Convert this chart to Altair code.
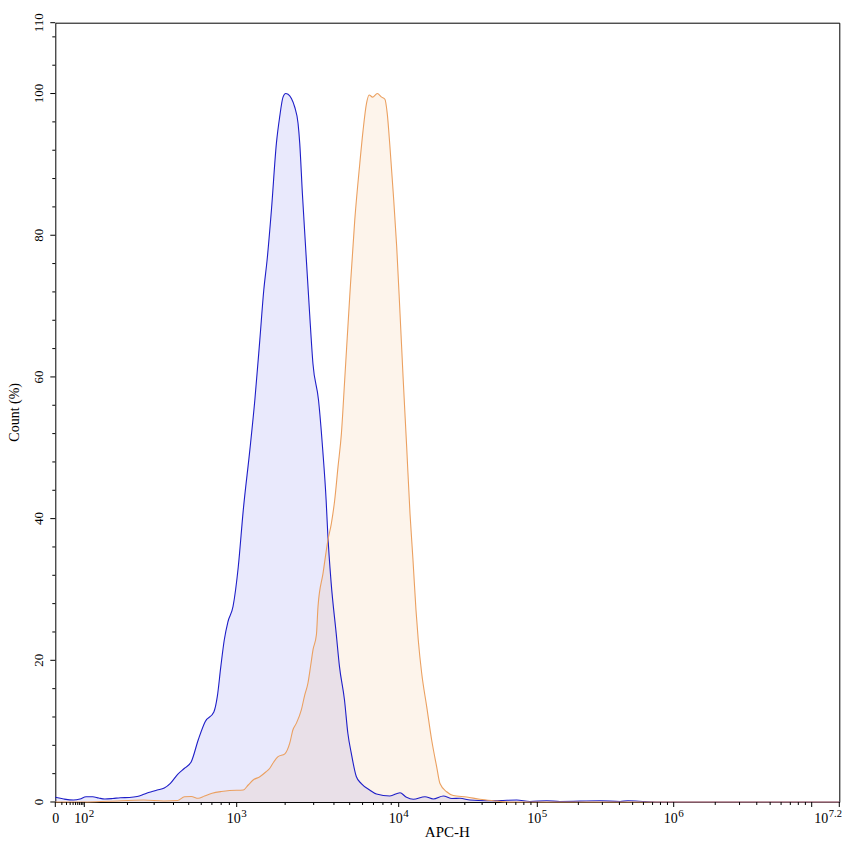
import altair as alt
import pandas as pd

# ---------------- data ----------------
SERIES = ["Control", "APC"]

blue_x = [0, 14, 41, 72, 103, 115, 127, 140, 159, 179, 206, 232, 250, 270, 291, 314, 349, 382,
          425, 470, 519, 574, 635, 720, 757, 796, 837, 881, 949, 1023, 1099, 1208, 1297, 1393,
          1475, 1546, 1645, 1766, 1850, 1940, 2015, 2084, 2187, 2291, 2403, 2461, 2556, 2666,
          2832, 2969, 3215, 3412, 3581, 3664, 3846, 4130, 4327, 4645, 4872, 5113, 5490, 5895,
          6633, 7305, 8830, 10220, 11290, 12750, 15480, 17780, 20990, 24250, 27700, 32680,
          43150, 53830, 71050, 88530, 117300, 146600, 288000, 404400, 462400, 616600, 794000,
          15848932]
blue_y = [0.66, 0.42, 0.28, 0.42, 0.75, 0.75, 0.56, 0.42, 0.49, 0.6, 0.64, 0.78, 0.99, 1.27,
          1.48, 1.69, 1.98, 2.64, 3.9, 4.76, 5.69, 8.75, 11.33, 12.7, 14.9, 19.1, 22.9, 25.4,
          27.6, 33.2, 41.2, 49.7, 56.7, 65.2, 72.3, 76.5, 83.6, 93.0, 96.7, 99.5, 100, 99.9,
          99.3, 98.1, 95.8, 93.0, 85.9, 78.9, 69.0, 61.9, 56.7, 49.7, 42.6, 37.9, 30.9, 23.8,
          19.1, 14.4, 9.7, 6.9, 3.6, 2.6, 1.7, 1.13, 0.85, 1.31, 0.71, 0.38, 0.75, 0.42, 0.85,
          0.49, 0.52, 0.28, 0.18, 0.2, 0.28, 0.07, 0.18, 0.07, 0.17, 0.07, 0.17, 0.07, 0, 0]

orange_x = [0, 100, 148, 256, 347, 425, 470, 519, 574, 629, 702, 801, 904, 1099, 1180, 1266,
            1393, 1517, 1607, 1700, 1807, 1991, 2135, 2235, 2344, 2518, 2642, 2767, 2877, 2973,
            3119, 3191, 3428, 3676, 3855, 4042, 4237, 4446, 4659, 5001, 5370, 5767, 6043, 6343,
            6586, 6912, 7386, 7858, 8229, 8503, 8836, 9262, 9720, 10220, 10780, 11420, 12070,
            12680, 13330, 13840, 14650, 15920, 17300, 18790, 19860, 22190, 24770, 30930, 38600,
            48200, 63500, 15848932]
orange_y = [0, 0, 0.1, 0.28, 0.14, 0.21, 0.75, 0.78, 0.52, 0.85, 1.23, 1.48, 1.62, 1.69, 2.4,
            3.1, 3.57, 4.23, 4.76, 5.65, 6.4, 6.8, 8.3, 10.2, 11.1, 13.0, 15.1, 16.8, 19.3, 21.5,
            23.6, 27.6, 32.3, 37.0, 39.3, 42.6, 47.3, 52.0, 59.6, 71.3, 82.1, 90.1, 94.8, 98.6,
            99.8, 99.5, 100, 99.5, 99.2, 97.2, 92.5, 85.9, 78.4, 69.0, 59.6, 50.1, 40.7, 34.2,
            27.1, 22.9, 18.2, 13.5, 8.75, 5.0, 2.6, 1.45, 0.92, 0.71, 0.38, 0.18, 0, 0]

# axis ticks / labels
x_major = [0, 100, 1000, 10000, 100000, 1000000, 10000000, 15848932]
x_label_vals = [100, 1000, 10000, 100000, 1000000]
x_label_exps = ["2", "3", "4", "5", "6"]
x_end_val = [15848932]
x_end_exp = ["7.2"]
x_minor = [10, 20, 30, 40, 50, 60, 70, 80, 90,
           200, 300, 400, 500, 600, 700, 800, 900,
           2000, 3000, 4000, 5000, 6000, 7000, 8000, 9000,
           20000, 30000, 40000, 50000, 60000, 70000, 80000, 90000,
           200000, 300000, 400000, 500000, 600000, 700000, 800000, 900000,
           2000000, 3000000, 4000000, 5000000, 6000000, 7000000, 8000000, 9000000]
y_major = [0, 20, 40, 60, 80, 100, 110]
y_labels = ["0", "20", "40", "60", "80", "100", "110"]
y_minor = [4, 8, 12, 16, 24, 28, 32, 36, 44, 48, 52, 56, 64, 68, 72, 76,
           84, 88, 92, 96, 104, 108]
X_TITLE = "APC-H"
Y_TITLE = "Count (%)"

# ---------------- layout / style ----------------
W, H = 784, 779.3
FONT = "Liberation Serif"
FILL_COLORS = ["#2828e6", "#f0963c"]
LINE_COLORS = ["#1e1ec8", "#eba060"]

xscale = alt.Scale(type="symlog", constant=20,
                   domain=[0, 100, 1000, 10000, 100000, 1000000, 15848932],
                   range=[0, 29, 181.4, 343.4, 482, 618.4, W],
                   nice=False, zero=False)
yscale = alt.Scale(domain=[0, 110], nice=False, zero=True)

df = pd.concat([
    pd.DataFrame({"apc": blue_x, "count": blue_y, "series": SERIES[0]}),
    pd.DataFrame({"apc": orange_x, "count": orange_y, "series": SERIES[1]}),
], ignore_index=True)

X = lambda f: alt.X(f, scale=xscale, axis=None)
Y = lambda f: alt.Y(f, scale=yscale, axis=None, stack=None)

base = alt.Chart(df)

areas = base.mark_area(interpolate="monotone", opacity=1, fillOpacity=0.1).encode(
    x=X("apc:Q"), y=Y("count:Q"),
    fill=alt.Fill("series:N", scale=alt.Scale(domain=SERIES, range=FILL_COLORS), legend=None),
)
lines = base.mark_line(interpolate="monotone", strokeWidth=1.1).encode(
    x=X("apc:Q"), y=Y("count:Q"),
    stroke=alt.Stroke("series:N", scale=alt.Scale(domain=SERIES, range=LINE_COLORS), legend=None),
)

# ticks
xmaj = alt.Chart(pd.DataFrame({"v": x_major})).mark_rule(color="black", strokeWidth=1).encode(
    x=X("v:Q"), y=alt.value(H), y2=alt.value(H + 5))
xmin = alt.Chart(pd.DataFrame({"v": x_minor})).mark_rule(color="black", strokeWidth=1).encode(
    x=X("v:Q"), y=alt.value(H), y2=alt.value(H + 3))
ymaj = alt.Chart(pd.DataFrame({"v": y_major})).mark_rule(color="black", strokeWidth=1).encode(
    y=Y("v:Q"), x=alt.value(0), x2=alt.value(-5))
ymin = alt.Chart(pd.DataFrame({"v": y_minor})).mark_rule(color="black", strokeWidth=1).encode(
    y=Y("v:Q"), x=alt.value(0), x2=alt.value(-3))

# tick labels
lab_df = pd.DataFrame({"v": x_label_vals, "base": ["10"] * len(x_label_vals), "exp": x_label_exps})
end_df = pd.DataFrame({"v": x_end_val, "base": ["10"], "exp": x_end_exp})
zero_df = pd.DataFrame({"v": [0], "base": ["0"]})

def xtext(data, field, align, dx, dy, size):
    return alt.Chart(data).mark_text(align=align, dx=dx, dy=dy, fontSize=size, font=FONT,
                                     baseline="alphabetic", color="black").encode(
        x=X("v:Q"), y=alt.value(H + 21.3), text=alt.Text(f"{field}:N"))

lab_base = xtext(lab_df, "base", "right", 4, 0, 14)
lab_exp = xtext(lab_df, "exp", "left", 4.5, -6, 11)
end_base = xtext(end_df, "base", "right", -11, 0, 14)
end_exp = xtext(end_df, "exp", "left", -10.5, -6, 10.5)
zero_lab = xtext(zero_df, "base", "center", 0.5, 0, 14)

ylab = alt.Chart(pd.DataFrame({"v": y_major, "t": y_labels})).mark_text(
    angle=270, align="center", baseline="alphabetic", fontSize=13, font=FONT, color="black"
).encode(y=Y("v:Q"), x=alt.value(-12.6), text="t:N")

# axis titles
xtitle = alt.Chart(pd.DataFrame({"t": [X_TITLE]})).mark_text(
    align="center", baseline="alphabetic", fontSize=15, font=FONT, color="black"
).encode(x=alt.value(W / 2), y=alt.value(H + 35), text="t:N")
ytitle = alt.Chart(pd.DataFrame({"t": [Y_TITLE]})).mark_text(
    angle=270, align="center", baseline="alphabetic", fontSize=14, font=FONT, color="black"
).encode(x=alt.value(-36), y=alt.value(H / 2), text="t:N")

chart = alt.layer(
    areas, lines, xmaj, xmin, ymaj, ymin, lab_base, lab_exp, end_base, end_exp, zero_lab,
    ylab, xtitle, ytitle
).properties(
    width=W, height=H,
    autosize=alt.AutoSizeParams(type="none"),
    padding={"left": 47.3, "top": 14.7, "right": 5, "bottom": 37},
).configure(
    font=FONT, background="white"
).configure_view(
    stroke="black", strokeWidth=1
)

chart.save("out.html", embed_options={"renderer": "svg", "actions": False})
